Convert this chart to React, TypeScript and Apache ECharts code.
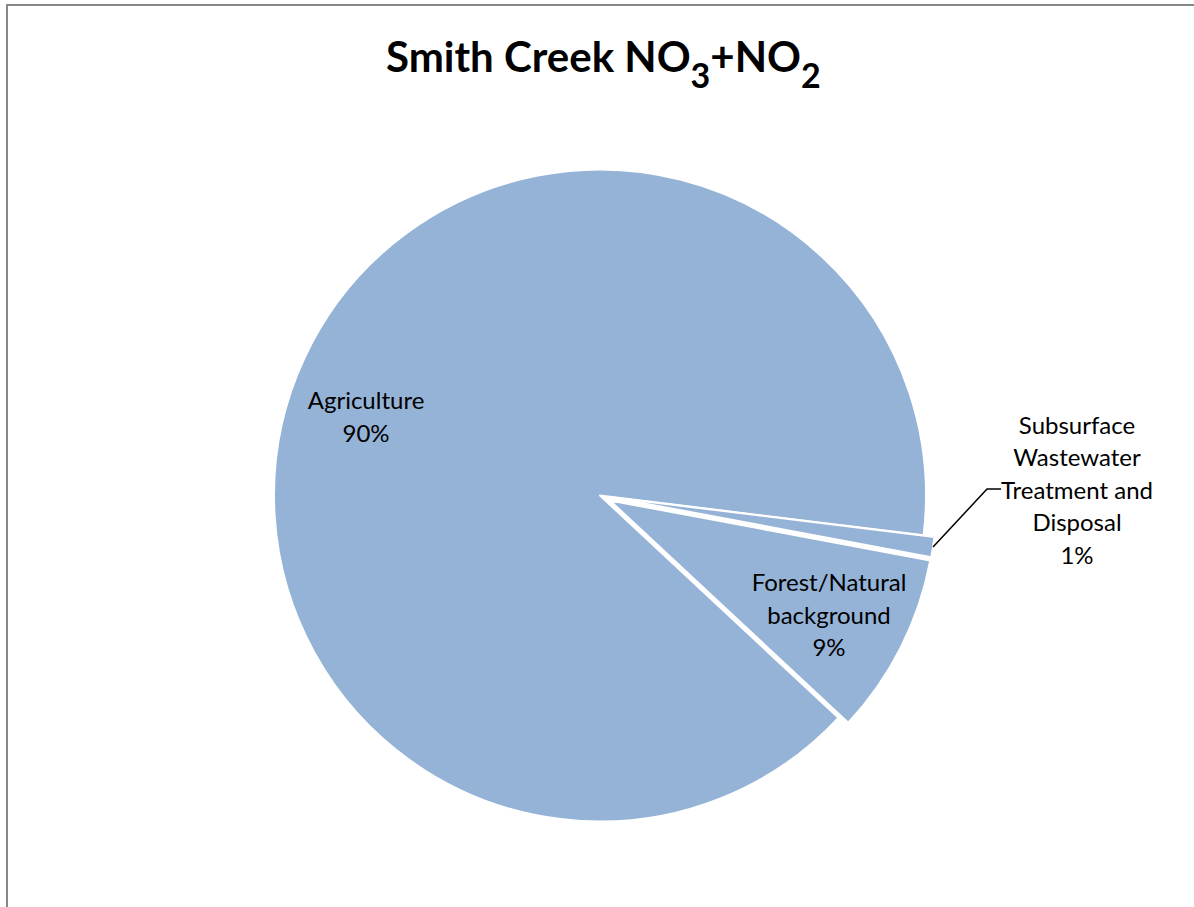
import { useEffect, useRef } from 'react';
import * as echarts from 'echarts';

// Nitrate + nitrite load shares by source, Smith Creek
const sourceNames = [
  'Agriculture',
  'Subsurface\nWastewater\nTreatment and\nDisposal',
  'Forest/Natural\nbackground',
];
const sharePercent = [90, 1, 9];
const explodedSlice = [false, true, true];

// Label placement (centre of each label's text block), in chart pixels
const labelCentres: [number, number][] = [
  [366, 416],
  [1077, 489],
  [829, 614],
];
const labelInside = [true, false, true];

const SLICE_BLUE = '#95B3D7';
const FONT = 'Lato, "Open Sans", sans-serif';

const PIE_CENTER = [600, 495.5];
const PIE_RADIUS = 326;
const SLICE_OFFSET = 11;
const START_ANGLE = 317;

export default function App() {
  const ref = useRef<HTMLDivElement>(null);

  useEffect(() => {
    if (!ref.current) return;
    const chart = echarts.init(ref.current, undefined, { renderer: 'svg' });

    // Slices, with the two minor sources pulled out of the pie
    const sliceData = sourceNames.map((name, i) => ({
      name,
      value: sharePercent[i],
      selected: explodedSlice[i],
    }));

    // Same slices, drawn invisibly, carrying the data labels
    const labelData = sourceNames.map((name, i) => ({
      name,
      value: sharePercent[i],
      label: labelInside[i]
        ? { position: 'inside' }
        : { position: 'outside', padding: [14, 0, 0, 0] },
      labelLine: { show: !labelInside[i] },
    }));

    chart.setOption({
      animation: false,
      backgroundColor: '#fff',
      title: {
        text: '{a|Smith Creek NO}{s|3}{a|+NO}{s|2}',
        left: 381,
        top: 23,
        textStyle: {
          rich: {
            a: { fontFamily: FONT, fontWeight: 'bold', fontSize: 42, lineHeight: 56, color: '#000' },
            s: {
              fontFamily: FONT,
              fontWeight: 'bold',
              fontSize: 34,
              lineHeight: 20,
              padding: [36, 0, 0, 0],
              color: '#000',
            },
          },
        },
      },
      graphic: [
        {
          type: 'rect',
          silent: true,
          z: -1,
          shape: { x: 7, y: 5, width: 1200, height: 920 },
          style: { fill: 'none', stroke: '#878787', lineWidth: 2 },
        },
      ],
      series: [
        {
          type: 'pie',
          center: PIE_CENTER,
          radius: PIE_RADIUS,
          startAngle: START_ANGLE,
          clockwise: true,
          selectedMode: 'multiple',
          selectedOffset: SLICE_OFFSET,
          emphasis: { disabled: true },
          select: { itemStyle: { color: SLICE_BLUE, borderColor: '#fff', borderWidth: 2 } },
          itemStyle: { color: SLICE_BLUE, borderColor: '#fff', borderWidth: 2 },
          label: { show: false },
          labelLine: { show: false },
          data: sliceData,
        },
        {
          // reaches the rim of the pulled-out slices so leader lines meet them
          type: 'pie',
          z: 3,
          silent: true,
          center: PIE_CENTER,
          radius: PIE_RADIUS + SLICE_OFFSET,
          startAngle: START_ANGLE,
          clockwise: true,
          selectedMode: false,
          avoidLabelOverlap: false,
          percentPrecision: 0,
          emphasis: { disabled: true },
          itemStyle: { color: 'rgba(0,0,0,0)', borderWidth: 0 },
          label: {
            show: true,
            formatter: '{b}\n{d}%',
            fontFamily: FONT,
            fontSize: 24,
            lineHeight: 32.5,
            color: '#000',
            align: 'center',
          },
          labelLine: {
            show: true,
            length: 10,
            length2: 14,
            lineStyle: { color: '#000', width: 1.5 },
          },
          labelLayout: (params: any) => {
            const [x, y] = labelCentres[params.dataIndex];
            return { x, y, align: 'center', verticalAlign: 'middle' };
          },
          data: labelData,
        },
      ],
    });

    return () => chart.dispose();
  }, []);

  return (
    <div
      ref={ref}
      style={{ position: 'absolute', left: 0, top: 0, width: 1194, height: 907 }}
    />
  );
}
